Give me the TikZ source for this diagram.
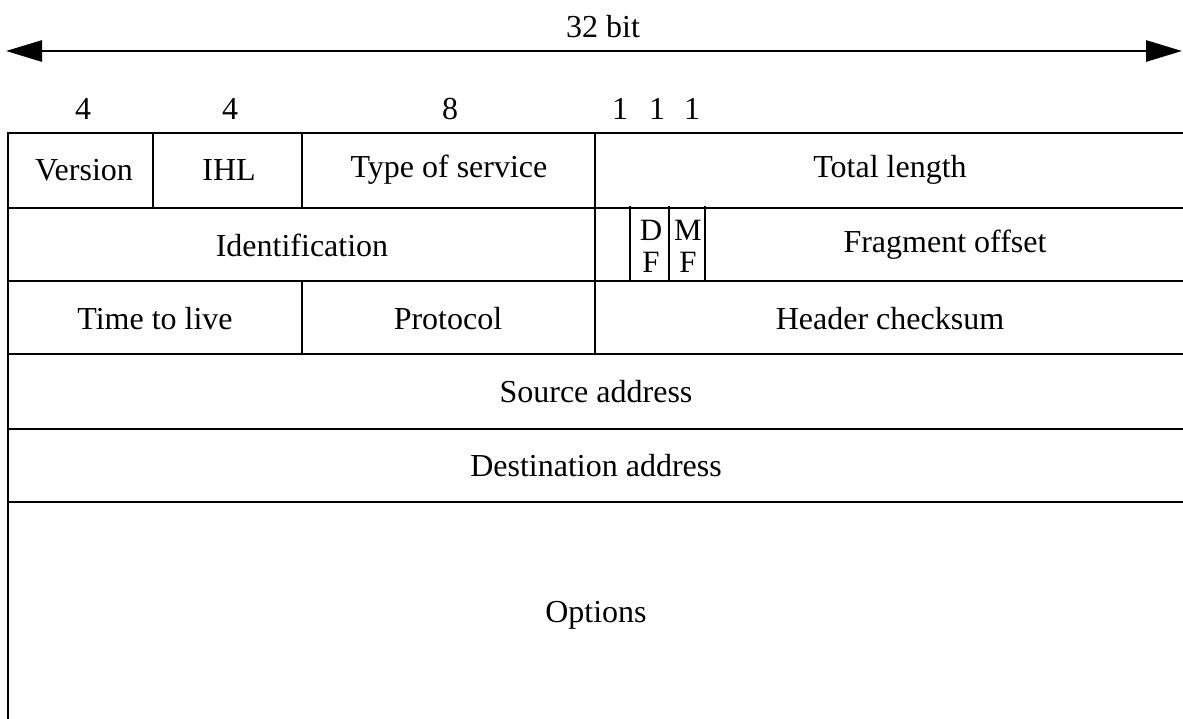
\documentclass[tikz,border=0pt]{standalone}
\usepackage{fontspec}
\setmainfont{Liberation Serif}
\usetikzlibrary{arrows.meta}
\begin{document}
\begin{tikzpicture}[x=1pt,y=-1pt,
  lbl/.style={inner sep=0pt, font=\fontsize{32}{32}\selectfont},
  flag/.style={inner sep=0pt, align=center, font=\fontsize{31}{32}\selectfont},
  grid/.style={line width=2.8pt, line cap=rect},
  dim/.style={line width=2.8pt, {Triangle[length=36pt,width=21pt]}-{Triangle[length=36pt,width=21pt]}}]
\useasboundingbox (0,0) rectangle (1183,718);
\clip (0,0) rectangle (1183,718);
% width arrow
\coordinate (aL) at (6,51);
\coordinate (aR) at (1182,51);
\draw[dim] (aL) -- (aR);
\node[lbl] (bits) at (603,27) {32 bit};
% field widths
\node[lbl] (w1) at (83,109) {4};
\node[lbl] (w2) at (230,109) {4};
\node[lbl] (w3) at (450,109) {8};
\node[lbl] (w4) at (620,109) {1};
\node[lbl] (w5) at (657,109) {1};
\node[lbl] (w6) at (692,109) {1};
% grid
\draw[grid] (8,133) -- (1200,133);
\draw[grid] (8,208) -- (1200,208);
\draw[grid] (8,281) -- (1200,281);
\draw[grid] (8,354) -- (1200,354);
\draw[grid] (8,429) -- (1200,429);
\draw[grid] (8,502) -- (1200,502);
\draw[grid] (8,133) -- (8,730);
\draw[grid] (153,133) -- (153,208);
\draw[grid] (302,133) -- (302,208);
\draw[grid] (302,281) -- (302,354);
\draw[grid] (595,133) -- (595,354);
\draw[line width=2.4pt] (630,206) -- (630,281);
\draw[line width=2.4pt] (669,206) -- (669,281);
\draw[line width=2.4pt] (705,206) -- (705,281);
% labels
\node[lbl] (version) at (84,170) {Version};
\node[lbl] (ihl) at (229,170) {IHL};
\node[lbl] (tos) at (449,170) {Type of service};
\node[lbl] (tlen) at (890,170) {Total length};
\node[lbl] (ident) at (302,245) {Identification};
\node[flag] (df) at (651,246) {D\\F};
\node[flag] (mf) at (688,246) {M\\F};
\node[lbl] (frag) at (945,245) {Fragment offset};
\node[lbl] (ttl) at (155,319) {Time to live};
\node[lbl] (proto) at (448,319) {Protocol};
\node[lbl] (hcs) at (890,319) {Header checksum};
\node[lbl] (src) at (596,392) {Source address};
\node[lbl] (dst) at (596,466) {Destination address};
\node[lbl] (opt) at (596,615) {Options};
\end{tikzpicture}
\end{document}
